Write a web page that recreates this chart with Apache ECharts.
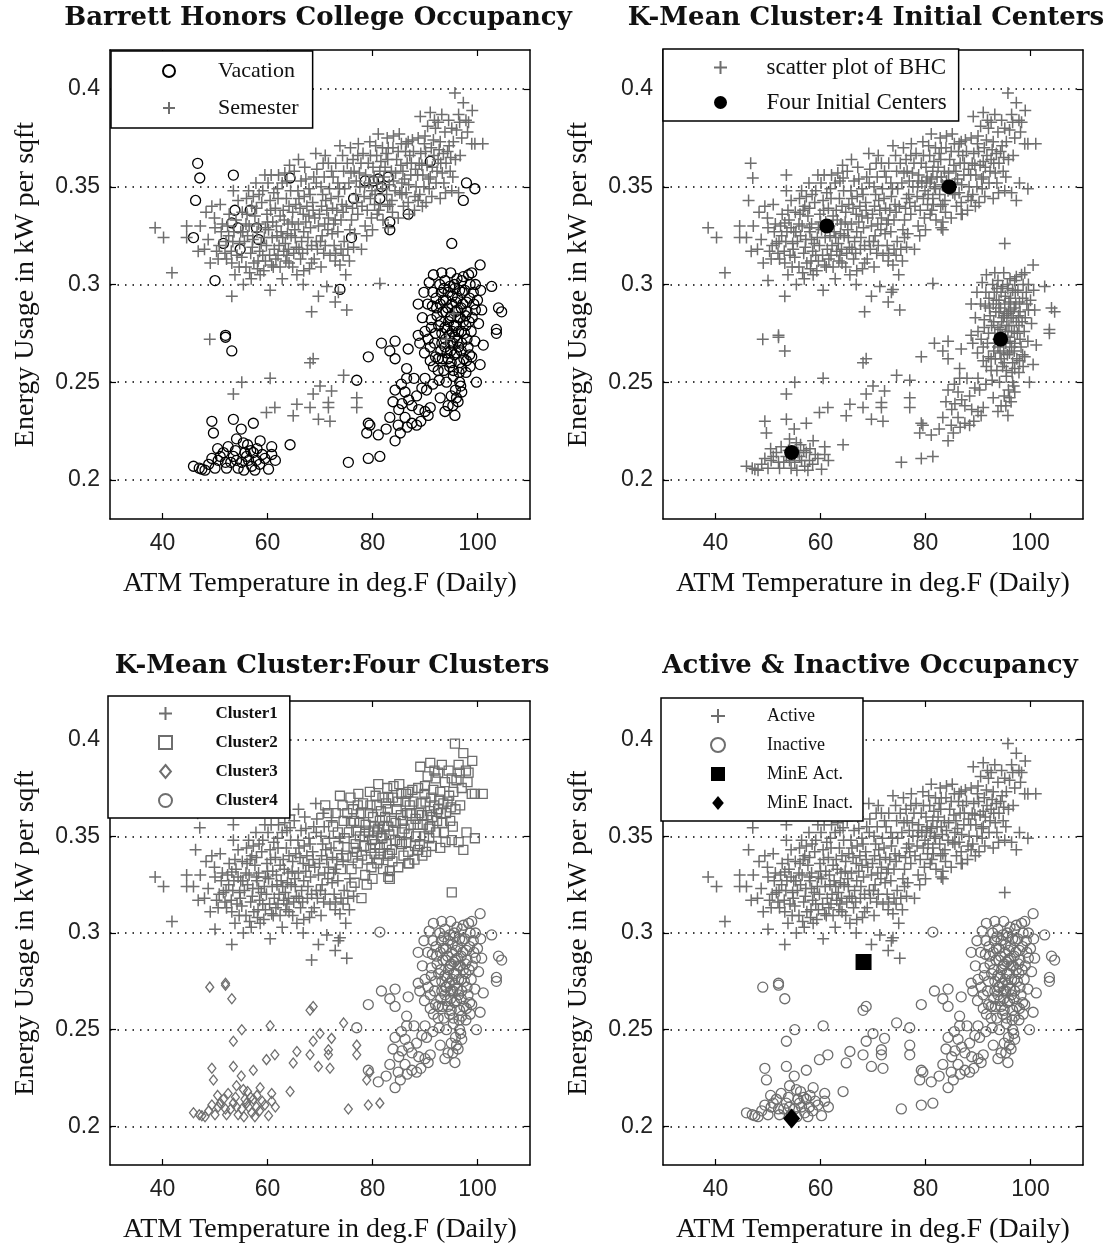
<!DOCTYPE html>
<html>
<head>
<meta charset="utf-8">
<script src="https://cdn.jsdelivr.net/npm/echarts@6/dist/echarts.min.js"></script>
<style>html,body{margin:0;padding:0;background:#fff}#c{width:1120px;height:1245px}</style>
</head>
<body>
<div id="c"></div>
<script>
// ---------- DATA (temperature degF, energy kW/sqft) ----------
const xTicks = [40, 60, 80, 100];
const yTicks = [0.2, 0.25, 0.3, 0.35, 0.4];

// cluster 1 (upper band, cooler days) - semester days
const c1Sem = [[38.6,0.329],[40.2,0.324],[41.8,0.306],[44.6,0.330],[44.6,0.324],[48.7,0.323],[49.4,0.340],[51.0,0.341],[50.0,0.329],[49.1,0.311],[50.6,0.313],[52.2,0.313],[53.2,0.311],[53.8,0.305],[53.5,0.348],[56.4,0.348],[54.4,0.343],[59.5,0.356],[58.6,0.305],[60.8,0.310],[65.6,0.305],[68.4,0.311],[72.9,0.312],[74.4,0.315],[76.4,0.319],
[53.2,0.294],[55.4,0.300],[60.5,0.297],[66.8,0.300],[71.3,0.299],[69.7,0.294],[72.9,0.291],[75.1,0.287],[68.4,0.286],[73.5,0.296],
[52.1,0.322],[53.1,0.317],[53.6,0.327],[54.7,0.321],[55.1,0.314],[55.9,0.331],[56.2,0.325],[57.1,0.319],[57.4,0.311],[57.6,0.335],[58.0,0.327],[58.8,0.321],[59.1,0.315],[58.9,0.342],[59.9,0.336],[60.2,0.328],[60.9,0.324],[61.3,0.318],[61.2,0.347],[61.5,0.339],[62.4,0.335],[62.6,0.327],[63.4,0.321],[63.7,0.315],[62.8,0.352],[63.6,0.344],[64.1,0.340],[64.7,0.332],[65.2,0.328],[65.5,0.319],[66.3,0.313],[65.1,0.358],[65.8,0.348],[66.0,0.344],[66.8,0.336],[67.3,0.332],[67.7,0.324],[68.4,0.320],[67.3,0.354],[68.1,0.346],[68.6,0.342],[69.0,0.334],[69.7,0.330],[70.1,0.322],[70.7,0.316],[69.4,0.359],[70.2,0.350],[70.5,0.346],[71.3,0.338],[71.6,0.334],[72.3,0.326],[72.7,0.320],[57.3,0.345],[55.2,0.337],[51.4,0.331],[52.7,0.336],[60.1,0.352],[62.1,0.356],[64.2,0.361],[65.9,0.364],[69.2,0.367],[67.1,0.360],[58.1,0.308],[62.4,0.309],[64.1,0.311],[61.8,0.325],[63.9,0.331],[59.4,0.324],[66.5,0.322],[68.9,0.313],[70.9,0.331],[73.4,0.327],[74.6,0.322],[72.1,0.344],[73.2,0.338],[56.8,0.316],[60.5,0.343],[63.0,0.338],[66.2,0.339],[61.0,0.332],[64.5,0.325],[67.6,0.318],[70.3,0.340],[74.0,0.318],[55.6,0.322],[54.0,0.333],[50.8,0.320],[48.0,0.318],[47.2,0.330],[57.8,0.352],[62.0,0.315],[65.0,0.316],[71.5,0.328],
[55.3,0.327],[56.5,0.330],[57.2,0.323],[58.3,0.331],[58.5,0.317],[59.6,0.329],[59.8,0.320],[60.6,0.338],[60.4,0.315],[61.7,0.330],[62.0,0.344],[62.9,0.324],[63.2,0.333],[63.5,0.312],[64.4,0.348],[64.8,0.337],[65.3,0.324],[65.9,0.331],[66.4,0.353],[66.9,0.327],[67.5,0.340],[67.9,0.349],[68.2,0.329],[68.7,0.338],[69.3,0.352],[69.9,0.336],[70.4,0.325],[70.8,0.355],[71.1,0.343],[71.8,0.349],[72.4,0.339],[72.6,0.331],[73.7,0.349],[74.2,0.341],[57.0,0.340],[56.0,0.344],[58.4,0.346],[60.7,0.356],[63.3,0.357],[61.1,0.309],[59.6,0.312],[55.9,0.309],[54.2,0.315],[52.6,0.325],[51.2,0.327],[49.9,0.334],[48.3,0.337],[46.8,0.317],[50.3,0.317],[63.8,0.326],[66.0,0.318],[69.5,0.318],[71.0,0.320],[73.0,0.316],[75.6,0.312],[74.9,0.305],[70.2,0.309],[66.9,0.307],[62.8,0.303],[56.9,0.303],
[54.6,0.309],[56.6,0.306],[58.2,0.312],[59.3,0.307],[61.6,0.313],[63.1,0.317],[64.8,0.309],[66.7,0.316],[68.0,0.308],[69.3,0.322],[71.9,0.315],[73.8,0.310],[75.3,0.318],[61.9,0.349],[63.7,0.353],[65.4,0.341],[67.0,0.345],[68.8,0.355],[70.6,0.362],[72.2,0.358],[59.1,0.348],[57.9,0.339],[56.1,0.336],[54.9,0.327],[53.4,0.322],[52.4,0.330],[51.9,0.316],[60.0,0.332],[62.2,0.320],[64.0,0.318],[67.9,0.335],[72.9,0.333],[74.4,0.337],[75.7,0.328]];
// cluster 1 - vacation days
const c1Vac = [[46.7,0.362],[47.1,0.3545],[46.3,0.343],[45.9,0.324],[53.5,0.356],[64.3,0.3545],[53.2,0.3315],[53.8,0.338],[56.7,0.338],[54.4,0.329],[57.9,0.329],[58.3,0.323],[51.6,0.321],[54.8,0.318],[50.0,0.302],[73.8,0.2975]];

// cluster 2 (upper band, warmer days) - semester days
const c2Sem = [[95.7,0.398],[97.3,0.393],[89.1,0.386],[91.0,0.388],[93.2,0.387],[92.5,0.383],[96.4,0.387],[98.3,0.383],[95.1,0.380],[99.5,0.372],[98.9,0.372],[95.4,0.373],[96.7,0.366],[81.1,0.377],[84.0,0.376],[86.8,0.373],[88.7,0.375],[90.0,0.376],[91.6,0.374],[92.9,0.373],[77.3,0.372],[79.5,0.373],[73.8,0.371],[71.0,0.366],[71.6,0.362],[95.1,0.348],[96.4,0.347],[91.3,0.345],[92.9,0.344],[83.7,0.343],[85.6,0.346],[86.8,0.342],[88.7,0.343],[84.9,0.334],[83.0,0.329],[77.9,0.318],[78.9,0.325],[78.6,0.330],[79.8,0.334],
[74.5,0.358],[75.5,0.352],[76.3,0.364],[76.8,0.346],[77.5,0.357],[78.0,0.340],[78.5,0.350],[79.2,0.362],[79.6,0.344],[80.3,0.355],[80.8,0.366],[81.2,0.338],[81.9,0.349],[82.4,0.360],[83.0,0.370],[83.3,0.341],[84.0,0.353],[84.6,0.364],[85.2,0.347],[85.8,0.358],[86.3,0.368],[86.9,0.351],[87.4,0.362],[88.1,0.345],[88.6,0.356],[89.2,0.367],[89.8,0.350],[90.4,0.361],[91.0,0.355],[91.7,0.366],[92.3,0.358],[93.0,0.362],[93.6,0.352],[94.3,0.368],[75.0,0.340],[76.0,0.333],[77.2,0.336],[73.5,0.345],[74.0,0.333],[72.5,0.355],[73.0,0.362],[80.0,0.328],[82.0,0.333],[75.8,0.370],[78.2,0.367],[82.7,0.346],[87.0,0.336],[89.5,0.340],[94.8,0.358],[97.0,0.375],[90.5,0.381],[85.5,0.372],[80.4,0.341],[76.6,0.326],
[75.2,0.362],[76.9,0.353],[77.8,0.362],[78.7,0.356],[79.9,0.348],[80.1,0.360],[80.9,0.352],[81.6,0.363],[82.2,0.355],[82.9,0.364],[83.6,0.358],[84.3,0.348],[84.9,0.368],[85.4,0.361],[86.1,0.354],[86.6,0.362],[87.3,0.356],[87.8,0.368],[88.3,0.350],[88.9,0.362],[89.6,0.356],[90.1,0.368],[90.8,0.349],[91.4,0.360],[92.1,0.352],[92.7,0.369],[93.3,0.357],[94.0,0.362],[94.6,0.371],[95.8,0.364],[96.0,0.379],[93.8,0.378],[92.0,0.380],[89.9,0.372],[87.6,0.374],[85.1,0.377],[82.8,0.375],[80.6,0.371],[78.4,0.345],[77.0,0.342],[79.0,0.338],[81.5,0.341],[83.8,0.337],[85.9,0.340],[88.0,0.338],[90.2,0.342],[76.2,0.339],[74.7,0.349],[73.4,0.352],[74.3,0.366],[97.8,0.384],[99.0,0.389],[101.0,0.372],
[75.9,0.357],[77.6,0.350],[79.3,0.352],[80.5,0.346],[81.4,0.358],[82.6,0.367],[83.2,0.351],[84.4,0.357],[85.6,0.352],[86.4,0.347],[87.1,0.366],[88.2,0.359],[89.4,0.361],[90.7,0.354],[91.2,0.370],[92.5,0.364],[93.5,0.367],[94.9,0.365],[95.3,0.355],[93.9,0.347],[89.0,0.346],[86.4,0.372],[83.9,0.370],[81.9,0.370],[79.6,0.366],[77.2,0.366],[80.9,0.336],[82.9,0.340],[98.1,0.378],[96.6,0.383],[94.5,0.384],[91.8,0.384],[76.5,0.358]];
// cluster 2 - vacation days
const c2Vac = [[91.0,0.363],[97.9,0.352],[99.5,0.349],[97.3,0.343],[86.8,0.336],[83.3,0.332],[83.3,0.328],[81.4,0.344],[81.7,0.350],[78.6,0.353],[76.0,0.324],[76.4,0.344],[83.0,0.355],[95.1,0.321],[81.1,0.354],[80.2,0.353]];

// cluster 3 (lower band, cooler days) - semester days
const c3Sem = [[49.0,0.272],[68.7,0.262],[68.1,0.260],[55.1,0.250],[53.5,0.244],[60.5,0.252],[74.5,0.2535],[59.8,0.2345],[61.4,0.237],[65.6,0.2387],[64.9,0.2328],[68.1,0.237],[69.7,0.231],[70.0,0.248],[68.7,0.244],[72.2,0.2455],[71.6,0.2396],[71.6,0.237],[71.9,0.230],[77.0,0.242],[77.0,0.237]];
// cluster 3 - vacation days
const c3Vac = [[45.9,0.207],[47.5,0.2055],[48.1,0.205],[49.4,0.211],[50.6,0.210],[51.6,0.214],[52.5,0.217],[53.5,0.212],[54.1,0.210],[54.4,0.206],[55.1,0.209],[55.7,0.214],[56.4,0.210],[57.0,0.207],[57.6,0.205],[57.3,0.214],[57.9,0.210],[58.6,0.220],[54.1,0.221],[55.4,0.219],[59.5,0.211],[60.2,0.2055],[60.8,0.213],[60.8,0.217],[49.4,0.230],[49.7,0.224],[53.5,0.231],[57.3,0.229],[64.3,0.218],[52.2,0.206],[50.0,0.206],[52.0,0.274],[52.0,0.273],[53.2,0.266],[75.4,0.209],[79.5,0.228],[78.9,0.224],[79.2,0.211],[81.4,0.212],[53.0,0.209],[56.0,0.212],[58.5,0.208],
[47.0,0.206],[48.8,0.208],[51.0,0.212],[52.0,0.209],[53.9,0.215],[55.5,0.205],[56.8,0.215],[58.0,0.216],[59.0,0.213],[61.5,0.210],[50.5,0.216],[55.0,0.226],[56.2,0.218]];

// cluster 4 (lower band, hot days) - semester days
const c4Sem = [[94.1,0.272],[81.4,0.3005],[95.5,0.285]];
// cluster 4 - vacation days
const c4Vac = [[79.2,0.263],[77.0,0.251],[79.2,0.229],[81.1,0.223],[84.3,0.220],[81.7,0.270],[84.3,0.271],[83.3,0.266],[84.3,0.262],[86.8,0.267],[88.7,0.274],[86.5,0.257],[86.5,0.252],[90.0,0.252],[84.3,0.246],[86.2,0.245],[88.4,0.243],[90.3,0.246],[92.9,0.242],[85.6,0.239],[87.5,0.238],[90.0,0.235],[91.0,0.237],[83.3,0.232],[84.9,0.228],[86.2,0.232],[87.5,0.229],[88.4,0.228],[90.6,0.233],[93.8,0.235],[95.7,0.233],[96.3,0.240],[97.0,0.245],[99.8,0.250],[94.4,0.238],
[102.7,0.299],[104.0,0.288],[104.6,0.286],[103.6,0.277],[103.6,0.275],[100.8,0.287],[101.1,0.269],[100.5,0.259],[98.9,0.263],[99.5,0.271],[97.9,0.261],
[100.5,0.310],[91.6,0.305],[98.3,0.305],[93.8,0.302],[97.0,0.302],[95.7,0.298],
[88.7,0.290],[89.5,0.283],[90.5,0.290],[90.0,0.276],[89.0,0.270],[91.0,0.268],[91.2,0.282],[91.5,0.296],[92.0,0.275],[92.2,0.288],[92.5,0.262],[92.8,0.300],[93.0,0.281],[93.2,0.270],[93.5,0.292],[93.6,0.256],[93.8,0.278],[94.0,0.286],[94.2,0.265],[94.4,0.296],[94.6,0.274],[94.8,0.283],[95.0,0.260],[95.1,0.290],[95.3,0.270],[95.5,0.279],[95.6,0.300],[95.8,0.286],[96.0,0.265],[96.2,0.293],[96.4,0.276],[96.5,0.255],[96.7,0.283],[97.0,0.270],[97.2,0.290],[97.4,0.262],[97.6,0.297],[97.8,0.279],[98.0,0.286],[98.2,0.268],[98.5,0.293],[98.8,0.276],[99.0,0.283],[99.3,0.290],[99.6,0.300],[100.2,0.280],[100.0,0.292],[92.7,0.251],[94.1,0.250],[95.4,0.253],[96.8,0.248],[91.6,0.258],[93.0,0.266],[94.9,0.266],[96.1,0.271],[97.5,0.275],[93.4,0.286],[94.5,0.281],[95.9,0.279],[96.9,0.288],[95.2,0.294],[94.0,0.292],[93.1,0.296],[96.6,0.297],[98.6,0.300],[92.1,0.293],[97.3,0.304],[99.2,0.296],[90.8,0.301],[89.8,0.296],
[95.0,0.243],[95.8,0.246],[96.6,0.250],[95.3,0.238],[96.0,0.242],
[91.8,0.270],[92.6,0.279],[93.3,0.262],[93.9,0.272],[94.3,0.288],[94.7,0.299],[95.2,0.276],[95.6,0.264],[95.9,0.291],[96.3,0.283],[96.6,0.260],[96.9,0.276],[97.1,0.296],[97.7,0.284],[98.0,0.272],[98.4,0.281],[97.9,0.291],[96.2,0.287],[95.0,0.284],[94.2,0.277],[93.6,0.298],[92.9,0.290],[92.3,0.284],[91.4,0.289],[95.4,0.256],[94.7,0.258],[96.9,0.266],[98.5,0.264],[93.2,0.275],[94.9,0.270],[96.4,0.268],[97.3,0.281],[95.7,0.273],[94.4,0.262],[93.8,0.268],[92.0,0.263],[90.6,0.272],[91.2,0.278],[99.6,0.287],[100.6,0.297],[98.9,0.306],[96.1,0.303],[94.9,0.306],[93.2,0.306],[92.5,0.256],[97.8,0.255],[98.6,0.258],[91.0,0.261],[89.9,0.265],[97.0,0.257],
[85.0,0.236],[86.9,0.241],[88.8,0.236],[89.4,0.247],[91.5,0.249],[87.9,0.252],[85.5,0.249],[83.9,0.240],[89.2,0.230],[86.6,0.227],[82.6,0.226],[85.3,0.224]];

// initial K-means centers
const centerX = [61.2, 84.5, 94.3, 54.5];
const centerY = [0.330, 0.350, 0.272, 0.214];
// minimum-energy points
const minEAct = [[68.2, 0.285]];
const minEInact = [[54.5, 0.204]];

// ---------- derived groupings ----------
const vacation = [].concat(c1Vac, c2Vac, c3Vac, c4Vac);
const semester = [].concat(c1Sem, c2Sem, c3Sem, c4Sem);
const allPts = [].concat(vacation, semester);
const cluster1 = c1Sem.concat(c1Vac);
const cluster2 = c2Sem.concat(c2Vac);
const cluster3 = c3Sem.concat(c3Vac);
const cluster4 = c4Sem.concat(c4Vac);
const active = cluster1.concat(cluster2);
const inactive = cluster3.concat(cluster4);
const centers = centerX.map((x, i) => [x, centerY[i]]);

// ---------- style ----------
const GRAY = '#6e6e6e';
const PLUS = 'path://M0,6L12,6M6,0L6,12';
const SQUARE = 'path://M0,0L10,0L10,10L0,10Z';
const DIAMOND = 'path://M5,0L10,6L5,12L0,6Z';
const SERIF = 'Liberation Serif';
const SANS = 'Liberation Sans';
const plusStyle = {symbol: PLUS, symbolSize: 12, itemStyle: {color: 'transparent', borderColor: GRAY, borderWidth: 1.5, opacity: 1}};
const ring = (c, s) => ({symbol: 'circle', symbolSize: s, itemStyle: {color: 'transparent', borderColor: c, borderWidth: 1.3, opacity: 1}});

const grids = [
  {left: 110, top: 50, width: 420, height: 469},
  {left: 663, top: 50, width: 420, height: 469},
  {left: 110, top: 701, width: 420, height: 466},
  {left: 663, top: 701, width: 420, height: 466}
];
const xAxes = [], yAxes = [];
grids.forEach((g, k) => {
  const line = {show: true, onZero: false, lineStyle: {color: '#000', width: 1.5}};
  const tick = {show: true, inside: true, length: 6, lineStyle: {color: '#000', width: 1.2}};
  xAxes.push({gridIndex: k, type: 'value', min: 30, max: 110, position: 'bottom',
    axisLine: line, axisTick: Object.assign({customValues: xTicks}, tick),
    axisLabel: {customValues: xTicks, fontFamily: SANS, fontSize: 23, color: '#222', margin: 13},
    splitLine: {show: false},
    name: 'ATM Temperature in deg.F (Daily)', nameLocation: 'middle', nameGap: 51,
    nameTextStyle: {fontFamily: SERIF, fontSize: 28, color: '#111'}});
  xAxes.push({gridIndex: k, type: 'value', min: 30, max: 110, position: 'top',
    axisLine: line, axisTick: Object.assign({customValues: xTicks}, tick),
    axisLabel: {show: false}, splitLine: {show: false}});
  yAxes.push({gridIndex: k, type: 'value', min: 0.18, max: 0.42, position: 'left',
    axisLine: line, axisTick: Object.assign({customValues: yTicks}, tick),
    axisLabel: {customValues: yTicks, fontFamily: SANS, fontSize: 23, color: '#222', margin: 10},
    splitLine: {show: true, lineStyle: {color: '#000', width: 1.5, type: [1.5, 6]}},
    name: 'Energy Usage in kW per sqft', nameLocation: 'middle', nameGap: 70,
    nameTextStyle: {fontFamily: SERIF, fontSize: 28, color: '#111'}});
  yAxes.push({gridIndex: k, type: 'value', min: 0.18, max: 0.42, position: 'right',
    axisLine: line, axisTick: Object.assign({customValues: yTicks}, tick),
    axisLabel: {show: false}, splitLine: {show: false}});
});

function sc(name, k, data, style, z) {
  return Object.assign({type: 'scatter', name, xAxisIndex: 2 * k, yAxisIndex: 2 * k, data,
    z: z || 2, silent: true, animation: false}, style);
}

const series = [
  // panel 1
  sc('Vacation', 0, vacation, ring('#000', 10)),
  sc('Semester', 0, semester, plusStyle),
  // panel 2
  sc('scatter plot of BHC', 1, allPts, plusStyle),
  sc('Four Initial Centers', 1, centers, {symbol: 'circle', symbolSize: 15, itemStyle: {color: '#000', opacity: 1}}, 5),
  // panel 3
  sc('Cluster1', 2, cluster1, plusStyle),
  sc('Cluster2', 2, cluster2, {symbol: SQUARE, symbolSize: 9, itemStyle: {color: 'transparent', borderColor: GRAY, borderWidth: 1.3, opacity: 1}}),
  sc('Cluster3', 2, cluster3, {symbol: DIAMOND, symbolSize: [8, 10], itemStyle: {color: 'transparent', borderColor: GRAY, borderWidth: 1.3, opacity: 1}}),
  sc('Cluster4', 2, cluster4, ring(GRAY, 10)),
  // panel 4
  sc('Active', 3, active, plusStyle),
  sc('Inactive', 3, inactive, ring(GRAY, 10)),
  sc('MinE Act.', 3, minEAct, {symbol: SQUARE, symbolSize: 16, itemStyle: {color: '#000', opacity: 1}}, 5),
  sc('MinE Inact.', 3, minEInact, {symbol: DIAMOND, symbolSize: [17, 20], itemStyle: {color: '#000', opacity: 1}}, 5)
];

// Legend icons are centred in itemWidth; ECharts trims the empty left part,
// so the left padding restores the offset of the marker inside the box.
const legendBase = {orient: 'vertical', borderColor: '#000', borderWidth: 1.5, backgroundColor: '#fff',
  borderRadius: 0, selectedMode: false, z: 10};
const legends = [
  Object.assign({}, legendBase, {data: ['Vacation', 'Semester'], left: 111, top: 51,
    padding: [9, 14, 9, 51], itemWidth: 88, itemHeight: 12, itemGap: 15,
    textStyle: {fontFamily: SERIF, fontSize: 22, color: '#111'}}),
  Object.assign({}, legendBase, {data: ['scatter plot of BHC', 'Four Initial Centers'], left: 663, top: 49,
    padding: [7, 12, 7, 50], itemWidth: 82, itemHeight: 13, itemGap: 12,
    textStyle: {fontFamily: SERIF, fontSize: 23, color: '#111'}}),
  Object.assign({}, legendBase, {data: ['Cluster1', 'Cluster2', 'Cluster3', 'Cluster4'], left: 108, top: 696,
    padding: [9, 12, 9, 50], itemWidth: 90, itemHeight: 13, itemGap: 12,
    textStyle: {fontFamily: SERIF, fontSize: 17, fontWeight: 'bold', color: '#111'}}),
  Object.assign({}, legendBase, {data: ['Active', 'Inactive', 'MinE Act.', 'MinE Inact.'], left: 661, top: 698,
    padding: [9, 10, 9, 49], itemWidth: 88, itemHeight: 14, itemGap: 11,
    textStyle: {fontFamily: SERIF, fontSize: 18, color: '#111'}})
];

const titleStyle = {fontFamily: 'DejaVu Serif', fontWeight: 'bold', fontSize: 26, color: '#111'};
const titles = [
  {text: 'Barrett Honors College Occupancy', left: 318, top: 5},
  {text: 'K-Mean Cluster:4 Initial Centers', left: 866, top: 5},
  {text: 'K-Mean Cluster:Four Clusters', left: 332, top: 653},
  {text: 'Active & Inactive Occupancy', left: 870, top: 653}
].map(t => Object.assign(t, {textAlign: 'center', padding: 0, textStyle: titleStyle}));

const chart = echarts.init(document.getElementById('c'), null, {renderer: 'canvas'});
chart.setOption({
  backgroundColor: '#fff',
  animation: false,
  title: titles,
  legend: legends,
  grid: grids,
  xAxis: xAxes,
  yAxis: yAxes,
  series: series
});
</script>
</body>
</html>
